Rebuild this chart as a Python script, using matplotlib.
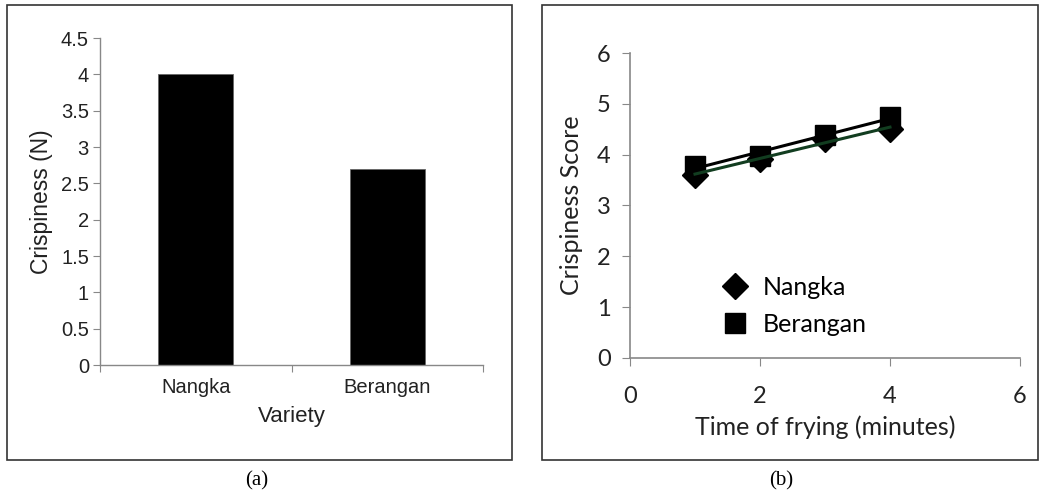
import numpy as np
import matplotlib
matplotlib.use('Agg')
import matplotlib.pyplot as plt
from matplotlib.patches import Rectangle

# panel (a): crispiness by variety
varieties = ['Nangka', 'Berangan']
crisp_n = [4.0, 2.7]

# panel (b): crispiness score vs frying time
fry_time = [1, 2, 3, 4]
score_nangka = [3.6, 3.92, 4.3, 4.5]
score_berangan = [3.78, 3.98, 4.38, 4.74]


def main():
	fig = plt.figure(figsize=(10.39, 4.98), dpi=100)
	W, H = 1039.0, 498.0

	# boxes around the two panels
	fig.patches.append(Rectangle((7/W, 1-460/H), 505/W, 455/H, transform=fig.transFigure,
		fill=False, edgecolor='#333333', linewidth=1.2))
	fig.patches.append(Rectangle((542/W, 1-460/H), 496/W, 455/H, transform=fig.transFigure,
		fill=False, edgecolor='#333333', linewidth=1.2))

	# --- (a) bar chart ---
	sans = 'Liberation Sans'
	ax1 = fig.add_axes([100/W, 1-365/H, 383/W, 327/H])
	x = np.arange(len(varieties))
	ax1.bar(x, crisp_n, width=0.39, color='black', edgecolor='#666666', linewidth=0.6)
	ax1.set_xlim(-0.5, 1.5)
	ax1.set_ylim(0, 4.5)
	ax1.set_yticks(np.arange(0, 4.51, 0.5))
	ax1.set_yticklabels(['0', '0.5', '1', '1.5', '2', '2.5', '3', '3.5', '4', '4.5'],
		fontsize=14.5, family=sans, color='#222222')
	ax1.set_xticks([-0.5, 0.5, 1.5])
	ax1.set_xticklabels([])
	ax1.set_xticks(x, minor=True)
	ax1.set_xticklabels(varieties, minor=True, fontsize=14.5, family=sans, color='#222222')
	ax1.tick_params(axis='x', which='minor', length=0, pad=9)
	ax1.tick_params(axis='x', which='major', length=5, color='#888888', direction='out')
	ax1.tick_params(axis='y', length=5, color='#888888', direction='out', pad=3)
	for s in ['top', 'right']:
		ax1.spines[s].set_visible(False)
	for s in ['left', 'bottom']:
		ax1.spines[s].set_color('#888888')
		ax1.spines[s].set_linewidth(1.0)
	ax1.set_xlabel('Variety', fontsize=16, family=sans, color='#222222', labelpad=7)
	ax1.set_ylabel('Crispiness (N)', fontsize=16.5, family=sans, color='#222222', labelpad=6)

	# --- (b) line chart ---
	cal = 'Lato'
	ax2 = fig.add_axes([630/W, 1-358/H, 390/W, 305/H])
	t = np.array(fry_time)
	# linear trend lines, as in the original spreadsheet chart
	for vals, col in [(score_nangka, '#123d20'), (score_berangan, 'black')]:
		k, b = np.polyfit(t, vals, 1)
		ax2.plot(t, k*t + b, color=col, linewidth=2.2, zorder=3)
	ax2.plot(t, score_nangka, 'D', color='black', markersize=13, linestyle='none',
		label='Nangka', zorder=2)
	ax2.plot(t, score_berangan, 's', color='black', markersize=15, linestyle='none',
		label='Berangan', zorder=2)
	ax2.set_xlim(0, 6)
	ax2.set_ylim(0, 6)
	ax2.set_xticks([0, 2, 4, 6])
	ax2.set_yticks([0, 1, 2, 3, 4, 5, 6])
	for lab in ax2.get_xticklabels() + ax2.get_yticklabels():
		lab.set_fontsize(17)
		lab.set_family(cal)
		lab.set_color('#222222')
	ax2.tick_params(axis='both', length=6, color='#888888', direction='out')
	ax2.tick_params(axis='x', pad=14)
	ax2.tick_params(axis='y', pad=8)
	for s in ['top', 'right']:
		ax2.spines[s].set_visible(False)
	for s in ['left', 'bottom']:
		ax2.spines[s].set_color('#888888')
		ax2.spines[s].set_linewidth(1.2)
	ax2.set_xlabel('Time of frying (minutes)', fontsize=18, family=cal, color='#222222', labelpad=6)
	ax2.set_ylabel('Crispiness Score', fontsize=18, family=cal, color='#222222', labelpad=10)
	ax2.legend(loc='lower left', bbox_to_anchor=(0.18, 0.0), frameon=False,
		prop={'family': cal, 'size': 18}, handlelength=1.0, handletextpad=0.6,
		labelspacing=0.55, markerscale=1.0)

	# captions
	fig.text(257/W, 1-481/H, '(a)', ha='center', va='center', fontsize=15,
		family='Liberation Serif')
	fig.text(781/W, 1-481/H, '(b)', ha='center', va='center', fontsize=15,
		family='Liberation Serif')

	fig.savefig('out.png', dpi=100)


if __name__ == "__main__":
	main()
